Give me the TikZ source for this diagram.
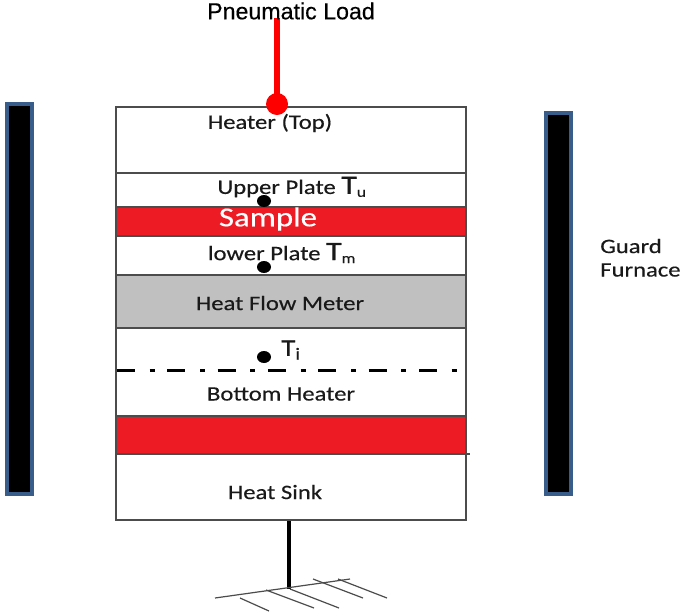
\documentclass[tikz,border=0pt]{standalone}
\usepackage{amsmath}
\usepackage{fontspec}
\setmainfont{Carlito}[FakeStretch=1.2,FakeBold=0.4]
\newfontfamily\loadfont{Liberation Sans}[FakeBold=0.3]
\tikzset{
  layer box/.style={
    draw=black!70,
    line width=1.4pt
  },
  hot layer/.style={
    layer box,
    fill=heatred
  },
  guard bar/.style={
    draw=guardblue,
    fill=black,
    line width=2.6pt
  },
  sensor dot/.style={
    fill=black
  },
  layer label/.style={
    font=\fontsize{15.4}{17}\selectfont,
    inner sep=0pt,
    color=black!90
  },
  ground line/.style={
    draw=black!70,
    line width=0.9pt
  }
}
\definecolor{heatred}{RGB}{237,28,36}
\definecolor{guardblue}{RGB}{56,93,138}
\definecolor{meterfill}{RGB}{192,192,192}

\begin{document}
\begin{tikzpicture}[x=0.75pt, y=-0.75pt]
    \useasboundingbox (0,0) rectangle (685,615);

    % guard furnace
    \draw[guard bar] (7,104) rectangle (32,494);
    \draw[guard bar] (546,113) rectangle (571,494);
    \node[layer label, align=left, anchor=west] (guard) at (600,246) {Guard};
    \node[layer label, align=left, anchor=west] (furnace) at (600,270) {Furnace};

    % stack, top to bottom
    \draw[layer box] (116,107) rectangle (466,173);
    \draw[layer box] (116,173) rectangle (466,207);
    \draw[hot layer] (116,207) rectangle (466,236);
    \draw[layer box] (116,236) rectangle (466,275);
    \draw[layer box, fill=meterfill] (116,275) rectangle (466,328);
    \draw[layer box] (116,328) rectangle (466,416);
    \draw[hot layer] (116,416) rectangle (466,454);
    \draw[layer box] (116,454) rectangle (466,520);
    \draw[black!70, line width=0.8pt] (466,454) -- (470,454);

    % labels
    \node[layer label] (heater) at (270,123) {Heater (Top)};
    \node[layer label] (upper) at (292,187) {Upper Plate {\fontsize{20}{20}\selectfont T}$_{\text{u}}$};
    \node[layer label, font=\fontsize{20.5}{22}\selectfont, color=white] (sample) at (268,219) {Sample};
    \node[layer label] (lower) at (282,253) {lower Plate {\fontsize{20}{20}\selectfont T}$_{\text{m}}$};
    \node[layer label] (meter) at (280,303) {Heat Flow Meter};
    \node[layer label, font=\fontsize{18}{20}\selectfont] (ti) at (291,350) {T$_{\text{i}}$};
    \node[layer label] (bottom) at (281,394) {Bottom Heater};
    \node[layer label] (sink) at (275,492) {Heat Sink};

    % thermocouples
    \foreach \y in {201,267,357} {
      \fill[sensor dot] (264,\y) ellipse (7 and 6);
    }
    \draw[black, line width=2.25pt, dash pattern=on 13.5pt off 11pt on 3.75pt off 9.5pt] (117,370) -- (460,370);

    % load
    \draw[red, line width=4.8pt] (277,18) -- (277,104);
    \fill[red] (277,104) circle (11);
    \node[font=\loadfont\fontsize{17.4}{19}\selectfont, inner sep=0pt] (load) at (291,11) {Pneumatic Load};

    % support
    \draw[black, line width=3pt] (289,521) -- (289,589);
    \draw[ground line] (215,598) -- (350,579);
    \draw[ground line] (240,598) -- (269,611);
    \draw[ground line] (266,590) -- (314,608);
    \draw[ground line] (290,589) -- (339,608);
    \draw[ground line] (313,579) -- (363,598);
    \draw[ground line] (338,579) -- (387,598);
\end{tikzpicture}
\end{document}
